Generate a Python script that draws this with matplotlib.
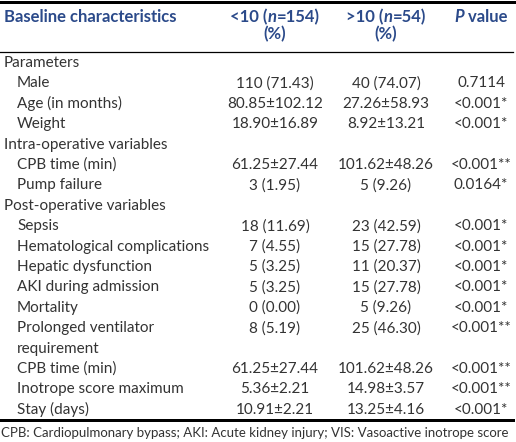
import matplotlib
matplotlib.use("Agg")
import matplotlib.pyplot as plt

# -----------------------------
# Table data
# -----------------------------

labels = [
    "Parameters", "Male", "Age (in months)", "Weight",
    "Intra-operative variables", "CPB time (min)", "Pump failure",
    "Post-operative variables", "Sepsis", "Hematological complications",
    "Hepatic dysfunction", "AKI during admission", "Mortality",
    "Prolonged ventilator\nrequirement", "CPB time (min)",
    "Inotrope score maximum", "Stay (days)",
]
is_section = [True, False, False, False, True, False, False, True,
              False, False, False, False, False, False, False, False, False]

group_lt10 = ["", "110 (71.43)", "80.85±102.12", "18.90±16.89", "",
              "61.25±27.44", "3 (1.95)", "", "18 (11.69)", "7 (4.55)",
              "5 (3.25)", "5 (3.25)", "0 (0.00)", "8 (5.19)",
              "61.25±27.44", "5.36±2.21", "10.91±2.21"]
group_gt10 = ["", "40 (74.07)", "27.26±58.93", "8.92±13.21", "",
              "101.62±48.26", "5 (9.26)", "", "23 (42.59)", "15 (27.78)",
              "11 (20.37)", "15 (27.78)", "5 (9.26)", "25 (46.30)",
              "101.62±48.26", "14.98±3.57", "13.25±4.16"]
p_values = ["", "0.7114", "<0.001*", "<0.001*", "",
            "<0.001**", "0.0164*", "", "<0.001*", "<0.001*",
            "<0.001*", "<0.001*", "<0.001*", "<0.001**",
            "<0.001**", "<0.001**", "<0.001*"]

footnote = ("CPB: Cardiopulmonary bypass; AKI: Acute kidney injury; "
            "VIS: Vasoactive inotrope score")

# -----------------------------
# Figure setup (pixel coordinates)
# -----------------------------

W, H = 516, 442
fig = plt.figure(figsize=(W / 100, H / 100), dpi=100)
ax = fig.add_axes([0, 0, 1, 1])
ax.set_xlim(0, W)
ax.set_ylim(H, 0)
ax.axis("off")

FONT = "Lato"
HEAD = "#2b4a8a"
BODY = "#333333"
FS = 11
HFS = 12

col_x = [275, 386, 481]
row0, step = 63, 20.4


def seq_text(x, y, parts, color, size, weight):
    # draw text pieces side by side, centred on x
    fig.canvas.draw()
    r = fig.canvas.get_renderer()
    arts = []
    for s, style in parts:
        arts.append(ax.text(0, y, s, color=color, fontsize=size, family=FONT,
                            weight=weight, style=style, va="center", ha="left"))
    widths = [a.get_window_extent(r).width for a in arts]
    start = x - sum(widths) / 2
    for a, w in zip(arts, widths):
        a.set_x(start)
        start += w


# -----------------------------
# Header
# -----------------------------

ax.text(4, 17, "Baseline characteristics", color=HEAD, fontsize=HFS,
        family=FONT, weight="bold", va="center")
seq_text(col_x[0], 17, [("<10 (", "normal"), ("n", "italic"), ("=154)", "normal")],
         HEAD, HFS, "bold")
seq_text(col_x[1], 17, [(">10 (", "normal"), ("n", "italic"), ("=54)", "normal")],
         HEAD, HFS, "bold")
seq_text(col_x[2], 17, [("P", "italic"), (" value", "normal")], HEAD, HFS, "bold")
for cx in col_x[:2]:
    ax.text(cx, 34, "(%)", color=HEAD, fontsize=HFS, family=FONT,
            weight="bold", ha="center", va="center")

# -----------------------------
# Body rows
# -----------------------------

row_idx = list(range(14)) + [15, 16, 17]
for i, lab in enumerate(labels):
    y = row0 + step * row_idx[i]
    x = 4 if is_section[i] else 17
    for k, line in enumerate(lab.split("\n")):
        ax.text(x, y + k * step, line, color=BODY, fontsize=FS, family=FONT,
                va="center")
    for cx, vals in zip(col_x, [group_lt10, group_gt10, p_values]):
        if vals[i]:
            ax.text(cx, y, vals[i], color=BODY, fontsize=FS, family=FONT,
                    ha="center", va="center")

# -----------------------------
# Rules and footnote
# -----------------------------

ax.plot([0, W], [1.5, 1.5], color="black", lw=3 * 0.72)
ax.plot([0, 513], [52, 52], color="black", lw=0.9)
ax.plot([0, 513], [419.5, 419.5], color="black", lw=3 * 0.72)

ax.text(1, 433, footnote, color=BODY, fontsize=9.5, family=FONT, va="center")

fig.savefig("out.png", dpi=100)
